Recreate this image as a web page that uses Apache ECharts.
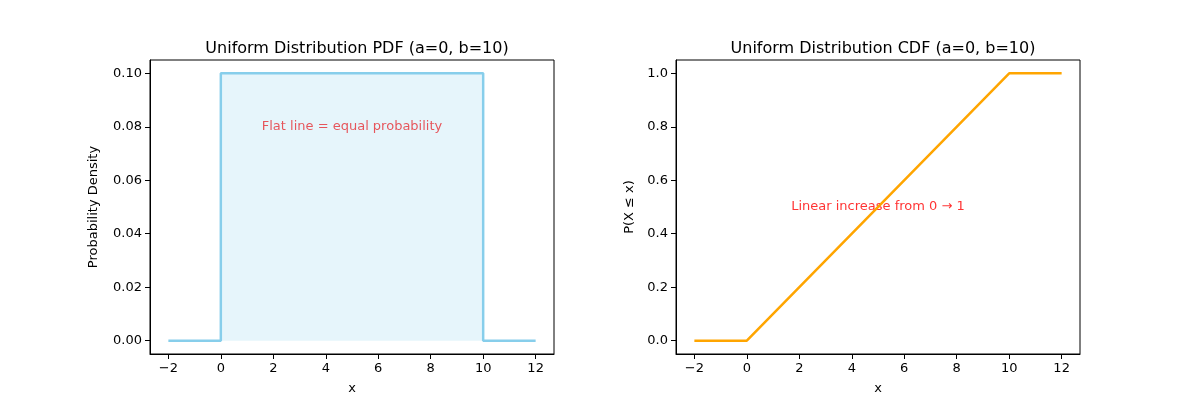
<!DOCTYPE html>
<html><head><meta charset="utf-8">
<script src="https://cdn.jsdelivr.net/npm/echarts@6/dist/echarts.min.js"></script>
<style>html,body{margin:0;background:#fff}#c{width:1200px;height:400px}</style>
</head><body><div id="c"></div>
<script>
const xTicks=[-2,0,2,4,6,8,10,12];
const pdfTicks=[0,0.02,0.04,0.06,0.08,0.10];
const cdfTicks=[0,0.2,0.4,0.6,0.8,1.0];
const pdfLine=[[-2,0],[0,0],[0,0.1],[10,0.1],[10,0],[12,0]];
const pdfFill=[[0,0.1],[10,0.1]];
const cdfLine=[[-2,0],[0,0],[10,1],[12,1]];
const F='DejaVu Sans';
function xa(i){return {type:'value',gridIndex:i,min:-2.7,max:12.7,name:'x',nameLocation:'middle',nameGap:28,
 nameTextStyle:{fontFamily:F,fontSize:13,color:'#000'},
 axisLine:{onZero:false,lineStyle:{color:'#000'}},splitLine:{show:false},
 axisTick:{customValues:xTicks,length:5,lineStyle:{color:'#000'}},
 axisLabel:{customValues:xTicks,fontFamily:F,fontSize:13,color:'#000',formatter:v=>v<0?'\u2212'+(-v):String(v)}};}
function ya(i,t,mn,mx,nm,fmt){return {type:'value',gridIndex:i,min:mn,max:mx,name:nm,nameLocation:'middle',nameGap:i?40:50,
 nameTextStyle:{fontFamily:F,fontSize:13,color:'#000'},
 axisLine:{show:true,onZero:false,lineStyle:{color:'#000'}},splitLine:{show:false},
 axisTick:{show:true,customValues:t,length:5,lineStyle:{color:'#000'}},
 axisLabel:{customValues:t,fontFamily:F,fontSize:13,color:'#000',formatter:fmt}};}
const lbl=t=>({show:true,position:'inside',formatter:t,color:'#ff0000',textBorderWidth:0,fontFamily:F,fontSize:13});
const opt={animation:false,
 title:[{text:'Uniform Distribution PDF (a=0, b=10)',left:352,top:36,textAlign:'center',textStyle:{fontFamily:F,fontSize:16,fontWeight:'normal',color:'#000'}},
        {text:'Uniform Distribution CDF (a=0, b=10)',left:878,top:36,textAlign:'center',textStyle:{fontFamily:F,fontSize:16,fontWeight:'normal',color:'#000'}}],
 grid:[{left:150,top:60,width:404,height:296,show:true,borderColor:'#000',borderWidth:1},
       {left:676,top:60,width:404,height:296,show:true,borderColor:'#000',borderWidth:1}],
 xAxis:[xa(0),xa(1)],
 yAxis:[ya(0,pdfTicks,-0.005,0.105,'Probability Density',v=>v.toFixed(2)),ya(1,cdfTicks,-0.05,1.05,'P(X \u2264 x)',v=>v.toFixed(1))],
 series:[
  {type:'line',xAxisIndex:0,yAxisIndex:0,data:pdfFill,symbol:'none',lineStyle:{width:0},areaStyle:{color:'rgba(135,206,235,0.3)',origin:0}},
  {type:'line',xAxisIndex:0,yAxisIndex:0,data:pdfLine,symbol:'none',lineStyle:{color:'#87ceeb',width:2.5}},
  {type:'line',xAxisIndex:1,yAxisIndex:1,data:cdfLine,symbol:'none',lineStyle:{color:'#ffa500',width:2.5}},
  {type:'scatter',xAxisIndex:0,yAxisIndex:0,symbolSize:0,itemStyle:{color:'#ff0000'},data:[[5,0.08]],label:lbl('Flat line = equal probability')},
  {type:'scatter',xAxisIndex:1,yAxisIndex:1,symbolSize:0,itemStyle:{color:'#ff0000'},data:[[5,0.5]],label:lbl('Linear increase from 0 \u2192 1')}
 ]};
echarts.init(document.getElementById('c')).setOption(opt);
</script></body></html>
